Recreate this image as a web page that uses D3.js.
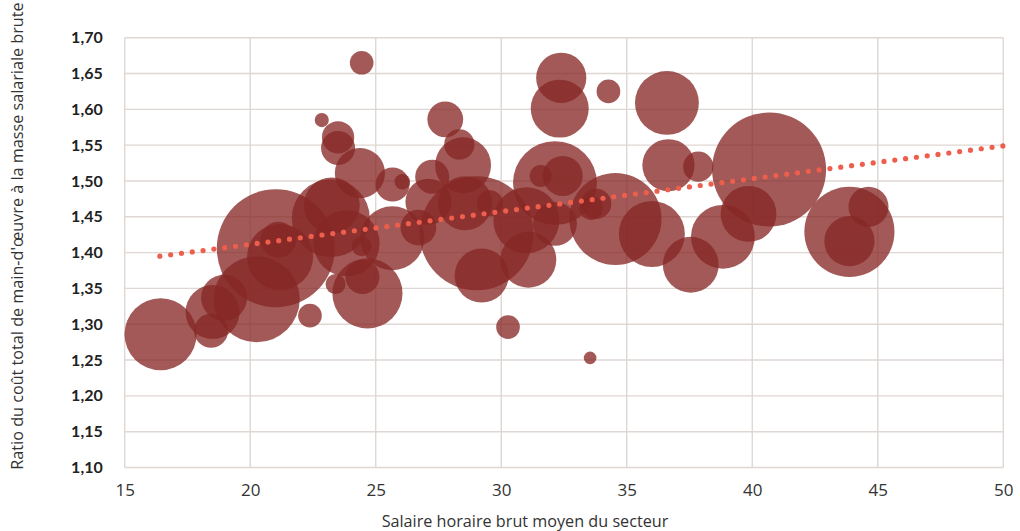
<!DOCTYPE html>
<html><head><meta charset="utf-8">
<script src="https://cdn.jsdelivr.net/npm/d3@7"></script>
<style>
html,body{margin:0;padding:0;background:#fff;}
svg{display:block;font-family:Lato,"Open Sans",sans-serif;}
</style></head>
<body>
<svg id="chart" width="1020" height="531"></svg>
<script>
// Data: average gross hourly wage of the sector, labour cost ratio, sector weight
const salaire = [16.43,18.5,18.44,18.96,20.26,22.38,24.67,24.47,23.4,21.02,21.19,21.12,22.85,23.5,23.5,24.37,23.21,23.25,23.84,24.44,25.67,26.06,27.25,27.1,26.7,25.66,24.44,27.77,28.33,28.48,29.02,29.22,28.56,29.55,32.14,32.45,31.57,31.0,31.08,32.14,33.78,33.58,34.55,36.0,36.66,36.6,32.39,32.33,34.27,30.27,33.54,37.85,40.67,39.85,38.83,37.55,43.87,43.87,44.63];
const ratio = [1.286,1.317,1.291,1.337,1.335,1.312,1.343,1.366,1.356,1.406,1.394,1.418,1.585,1.561,1.546,1.511,1.448,1.466,1.413,1.409,1.495,1.499,1.506,1.471,1.435,1.420,1.665,1.586,1.551,1.522,1.427,1.368,1.469,1.469,1.497,1.507,1.507,1.445,1.390,1.440,1.468,1.462,1.447,1.426,1.522,1.609,1.644,1.601,1.625,1.296,1.253,1.520,1.516,1.454,1.422,1.383,1.429,1.416,1.464];
const poids = [130,73,29,53,185,14,123,29,10,348,109,32,5,26,29,63,152,78,109,10,29,6,29,53,32,102,14,32,23,78,325,73,73,17,176,40,12,109,78,48,23,14,212,109,68,102,63,84,14,14,4,23,325,78,102,78,203,63,40];
const trendX = [16.4, 50];
const trendY = [1.395, 1.549];
const xTicks = [15,20,25,30,35,40,45,50];
const yTicks = [1.10,1.15,1.20,1.25,1.30,1.35,1.40,1.45,1.50,1.55,1.60,1.65,1.70];
const xTitle = "Salaire horaire brut moyen du secteur";
const yTitle = "Ratio du coût total de main-d'œuvre à la masse salariale brute";

const svg = d3.select("#chart");
const m = {left:124.7, right:1003.3, top:37.7, bottom:467.5};
const x = d3.scaleLinear().domain([15,50]).range([m.left, m.right]);
const y = d3.scaleLinear().domain([1.10,1.70]).range([m.bottom, m.top]);
const r = d3.scaleSqrt().domain([0, d3.max(poids)]).range([0, 59]);
const fmt = v => d3.format(".2f")(v).replace(".", ",");

// grid
const grid = svg.append("g");
grid.selectAll("line.h").data(yTicks).join("line")
  .attr("x1", m.left).attr("x2", m.right)
  .attr("y1", d => y(d)).attr("y2", d => y(d))
  .attr("stroke", "#ded7d3").attr("stroke-width", 1.4);
grid.selectAll("line.v").data(xTicks).join("line")
  .attr("y1", m.top).attr("y2", m.bottom)
  .attr("x1", d => x(d)).attr("x2", d => x(d))
  .attr("stroke", "#ded7d3").attr("stroke-width", 1.4);

// axes labels via d3 axes
const yAxis = svg.append("g").attr("transform", `translate(${m.left},0)`)
  .call(d3.axisLeft(y).tickValues(yTicks).tickFormat(fmt).tickSize(0).tickPadding(22));
yAxis.select(".domain").remove();
yAxis.selectAll("text").attr("font-size", 16).attr("font-weight", 700).attr("fill", "#222")
  .attr("font-family", "Lato, sans-serif");

const xAxis = svg.append("g").attr("transform", `translate(0,${m.bottom})`)
  .call(d3.axisBottom(x).tickValues(xTicks).tickFormat(d3.format("d")).tickSize(0).tickPadding(16));
xAxis.select(".domain").remove();
xAxis.selectAll("text").attr("font-size", 17).attr("fill", "#333")
  .attr("font-family", "'Open Sans', sans-serif");

// bubbles
const data = salaire.map((s, i) => ({x: s, y: ratio[i], w: poids[i]}));
svg.append("g").selectAll("circle").data(data).join("circle")
  .attr("cx", d => x(d.x)).attr("cy", d => y(d.y)).attr("r", d => r(d.w))
  .attr("fill", "#862725").attr("fill-opacity", 0.77);

// trend line
svg.append("line")
  .attr("x1", x(trendX[0])).attr("y1", y(trendY[0]))
  .attr("x2", x(trendX[1])).attr("y2", y(trendY[1]))
  .attr("stroke", "#ee5e4c").attr("stroke-width", 5.2)
  .attr("stroke-linecap", "round").attr("stroke-dasharray", "0 10.9");

// titles
svg.append("text").attr("x", 525).attr("y", 527).attr("text-anchor", "middle")
  .attr("font-family", "'Open Sans', sans-serif")
  .attr("font-size", 16.2).attr("fill", "#333").text(xTitle);
svg.append("text").attr("transform", "translate(23,236) rotate(-90)").attr("text-anchor", "middle")
  .attr("font-family", "'Open Sans', sans-serif")
  .attr("font-size", 16.2).attr("fill", "#333").text(yTitle);
</script>
</body></html>
